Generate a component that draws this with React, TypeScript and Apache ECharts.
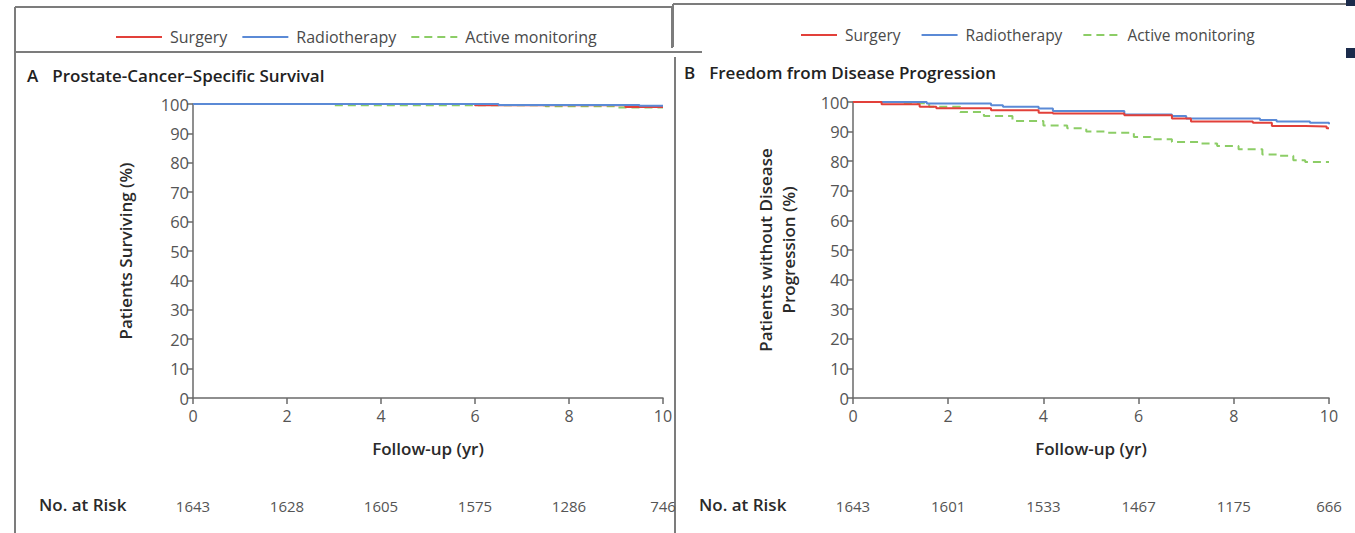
import React, { useEffect, useRef } from "react";
import * as echarts from "echarts";

const FONT = "'Open Sans', 'Noto Sans', sans-serif";

const seriesNames = ["Surgery", "Radiotherapy", "Active monitoring"];
const riskA = ["1643", "1628", "1605", "1575", "1286", "746"];
const riskB = ["1643", "1601", "1533", "1467", "1175", "666"];

// Panel A: Prostate-cancer-specific survival (%)
const surgeryA = [[0, 100], [6.0, 99.6], [9.2, 99.0], [10, 99.0]];
const radioA = [[0, 100], [6.5, 99.7], [9.5, 99.4], [10, 99.4]];
const activeA = [[0, 100], [3.0, 99.6], [7.5, 99.2], [9.0, 98.8], [10, 98.8]];

// Panel B: Freedom from disease progression (%)
const surgeryB = [
  [0, 100], [0.6, 99.2], [1.4, 98.4], [1.75, 97.9], [2.9, 97.2], [3.9, 96.4],
  [4.2, 96.1], [5.7, 95.5], [6.7, 94.4], [7.1, 93.4], [8.4, 93.0], [8.8, 91.9],
  [9.5, 91.7], [9.95, 91.1], [10, 91.1],
];
const radioB = [
  [0, 100], [1.55, 99.5], [2.9, 98.9], [3.15, 98.4], [3.9, 97.8], [4.2, 97.0],
  [5.7, 95.8], [6.7, 95.3], [7.0, 94.4], [8.55, 93.9], [8.9, 93.4], [9.6, 93.0],
  [10, 92.5],
];
const activeB = [
  [0, 100], [1.0, 99.6], [1.6, 98.4], [2.25, 96.6], [2.75, 95.3], [3.35, 93.6],
  [4.0, 92.1], [4.5, 91.1], [4.9, 90.0], [5.3, 89.6], [5.9, 88.2], [6.25, 87.4],
  [6.7, 86.5], [7.3, 86.0], [7.65, 85.1], [8.1, 84.0], [8.6, 82.3], [8.9, 81.8],
  [9.25, 80.3], [9.5, 79.7], [10, 79.7],
];

const COLORS = { surgery: "#e2403a", radio: "#5b8ad6", active: "#8ccd66" };

export default function App() {
  const ref = useRef<HTMLDivElement>(null);
  useEffect(() => {
    if (!ref.current) return;
    const chart = echarts.init(ref.current, null, { renderer: "svg" });
    const axisColor = "#6a6a6a";
    const labelColor = "#555555";
    const boldColor = "#2a2a2a";

    const yAxisBase = (name: string, gridIndex: number, nameGap: number) => ({
      type: "value",
      gridIndex,
      min: 0,
      max: 100,
      interval: 10,
      name,
      nameLocation: "middle",
      nameGap,
      nameTextStyle: { fontFamily: FONT, fontSize: 17, fontWeight: 600, color: boldColor, lineHeight: 23 },
      axisLine: { show: true, lineStyle: { color: axisColor, width: 1.5 } },
      axisTick: { show: true, length: 6, lineStyle: { color: axisColor, width: 1.5 } },
      axisLabel: { fontFamily: FONT, fontSize: 16.5, color: labelColor, margin: 4 },
      splitLine: { show: false },
    });
    const xAxisBase = (gridIndex: number) => ({
      type: "value",
      gridIndex,
      min: 0,
      max: 10,
      interval: 2,
      name: "Follow-up (yr)",
      nameLocation: "middle",
      nameGap: 42,
      nameTextStyle: { fontFamily: FONT, fontSize: 17, fontWeight: 600, color: boldColor },
      axisLine: { show: true, onZero: false, lineStyle: { color: axisColor, width: 1.5 } },
      axisTick: { show: true, length: 6, lineStyle: { color: axisColor, width: 1.5 } },
      axisLabel: { fontFamily: FONT, fontSize: 16, color: labelColor, margin: 10 },
      splitLine: { show: false },
    });
    const riskAxis = (gridIndex: number, risk: string[]) => ({
      type: "value",
      gridIndex,
      min: 0,
      max: 10,
      interval: 2,
      position: "bottom",
      offset: 90,
      axisLine: { show: false },
      axisTick: { show: false },
      splitLine: { show: false },
      axisLabel: {
        fontFamily: FONT,
        fontSize: 15,
        color: labelColor,
        margin: 10,
        formatter: (v: number) => risk[Math.round(v / 2)] ?? "",
      },
    });

    const line = (name: string, data: number[][], xi: number, yi: number, color: string, dashed: boolean, z: number) => ({
      type: "line",
      name,
      xAxisIndex: xi,
      yAxisIndex: yi,
      data,
      step: "end",
      symbol: "none",
      z,
      lineStyle: { color, width: 2, type: dashed ? [8, 5] : "solid" },
      itemStyle: { color },
    });

    const legendBase = (left: number, top: number, width: number, gap: number, size: number) => ({
      data: seriesNames,
      left,
      top,
      orient: "horizontal",
      itemWidth: width,
      itemHeight: 14,
      itemGap: gap,
      selectedMode: false,
      itemStyle: { opacity: 0 },
      textStyle: { fontFamily: FONT, fontSize: size, color: "#4a4a4a", padding: [0, 0, 0, 3] },
    });

    const border = "#7c7c7c";
    const ln = (x1: number, y1: number, x2: number, y2: number) => ({
      type: "line",
      shape: { x1, y1, x2, y2 },
      style: { stroke: border, lineWidth: 2 },
      silent: true,
    });

    const titleRich = {
      a: { fontFamily: FONT, fontSize: 17, fontWeight: 600, color: "#222" },
      b: { fontFamily: FONT, fontSize: 17, fontWeight: 600, color: "#222" },
    };

    chart.setOption({
      animation: false,
      backgroundColor: "#ffffff",
      textStyle: { fontFamily: FONT },
      title: [
        {
          left: 22,
          top: 61,
          text: "{a|A}   {b|Prostate-Cancer–Specific Survival}",
          textStyle: { rich: titleRich },
        },
        {
          left: 679,
          top: 58,
          text: "{a|B}   {b|Freedom from Disease Progression}",
          textStyle: { rich: titleRich },
        },
      ],
      legend: [legendBase(110, 24, 46, 14, 16), legendBase(795, 22, 36, 20, 15.5)],
      grid: [
        { left: 193, right: 692, top: 104, bottom: 135, containLabel: false },
        { left: 853, right: 26, top: 102, bottom: 135, containLabel: false },
      ],
      xAxis: [xAxisBase(0), xAxisBase(1), riskAxis(0, riskA), riskAxis(1, riskB)],
      yAxis: [
        yAxisBase("Patients Surviving (%)", 0, 56),
        yAxisBase("Patients without Disease\nProgression (%)", 1, 53),
      ],
      series: [
        line("Surgery", surgeryA, 0, 0, COLORS.surgery, false, 4),
        line("Radiotherapy", radioA, 0, 0, COLORS.radio, false, 5),
        line("Active monitoring", activeA, 0, 0, COLORS.active, true, 3),
        line("Surgery", surgeryB, 1, 1, COLORS.surgery, false, 5),
        line("Radiotherapy", radioB, 1, 1, COLORS.radio, false, 4),
        line("Active monitoring", activeB, 1, 1, COLORS.active, true, 3),
      ],
      graphic: [
        ln(15, 7, 672, 7),
        ln(15, 7, 15, 533),
        ln(672, 7, 672, 48),
        ln(15, 52, 702, 52),
        ln(675, 57, 675, 533),
        ln(673, 4, 1346, 4),
        ln(673, 4, 673, 47),
        { type: "rect", shape: { x: 1346, y: 0, width: 9, height: 6 }, style: { fill: "#1b2b4b" }, silent: true },
        { type: "rect", shape: { x: 1346, y: 48, width: 9, height: 10 }, style: { fill: "#1b2b4b" }, silent: true },
        {
          type: "text",
          left: 39,
          top: 496,
          style: { text: "No. at Risk", fontFamily: FONT, fontSize: 17, fontWeight: 600, fill: boldColor },
        },
        {
          type: "text",
          left: 699,
          top: 496,
          style: { text: "No. at Risk", fontFamily: FONT, fontSize: 17, fontWeight: 600, fill: boldColor },
        },
      ],
    });
    return () => chart.dispose();
  }, []);
  return (
    <div
      ref={ref}
      style={{ position: "fixed", left: 0, top: 0, width: 1355, height: 533, background: "#fff" }}
    />
  );
}
